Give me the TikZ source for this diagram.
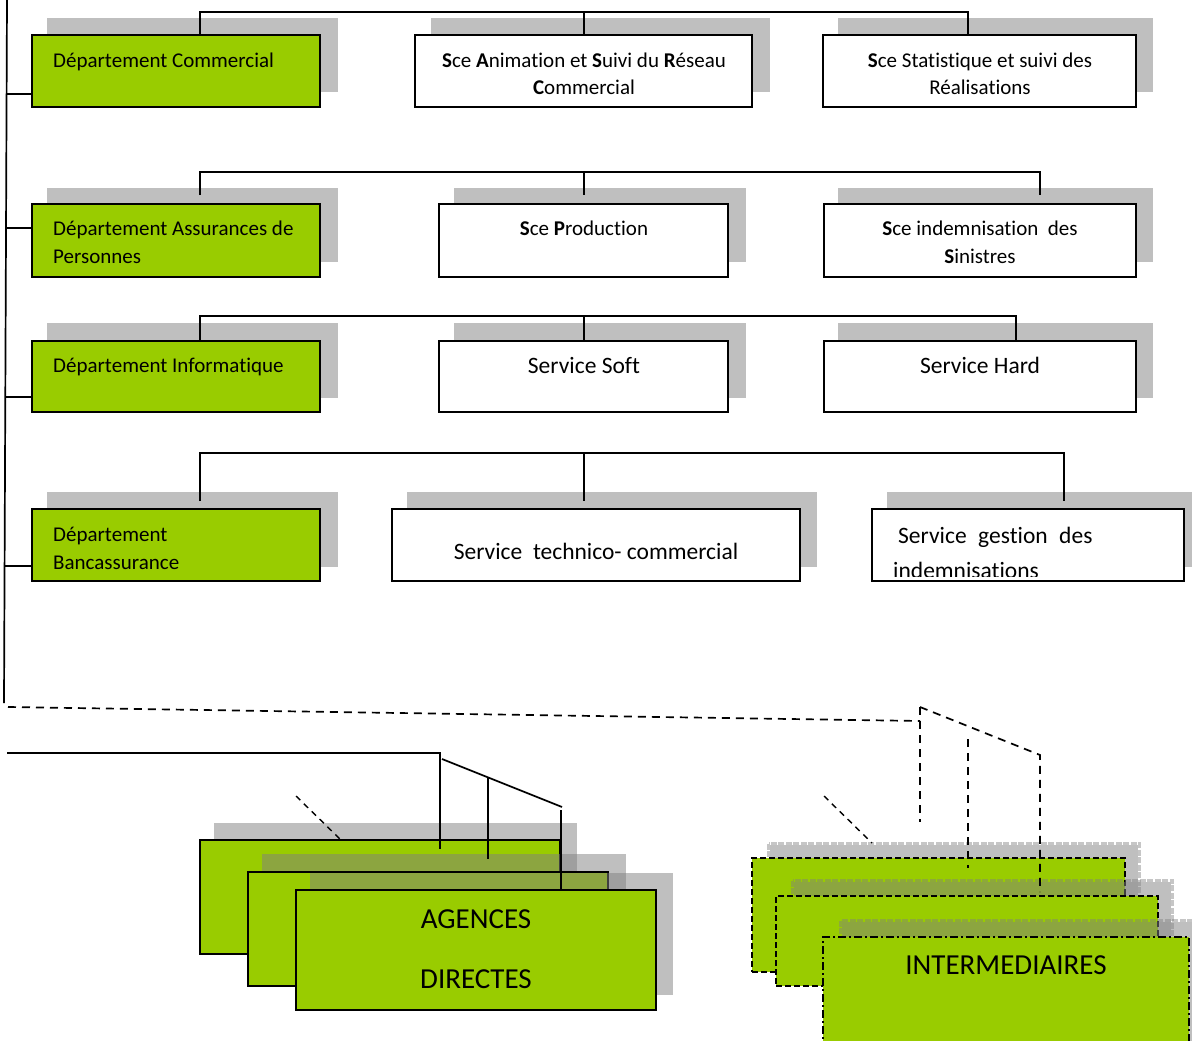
\documentclass[tikz,border=0pt]{standalone}
\usepackage{fontspec}
\setmainfont{Carlito}[Ligatures=NoCommon]
\definecolor{leaf}{HTML}{99CC00}
\definecolor{shade}{RGB}{128,128,128}
% shadow with a ragged, dashed rim
\newcommand\softshade[4]{%
  \fill[shadowfill] (#1+3,#2+3) rectangle (#3-3,#4-3);
  \draw[shadowedge] (#1+1.5,#2+1.5) rectangle (#3-1.5,#4-1.5);}
\begin{document}
\begin{tikzpicture}[x=1pt,y=-1pt,
  shadowfill/.style={fill=shade,fill opacity=0.5},
  shadowedge/.style={draw=shade,draw opacity=0.45,line width=3pt,dash pattern=on 6pt off 1.5pt},
  greenbox/.style={draw=black,line width=2pt,fill=leaf,inner sep=0pt},
  whitebox/.style={draw=black,line width=2pt,fill=white,inner sep=0pt},
  dashbox/.style={draw=black,line width=1.8pt,fill=leaf,inner sep=0pt,dash pattern=on 6pt off 3pt},
  dotbox/.style={draw=black,line width=1.8pt,fill=leaf,inner sep=0pt,dash pattern=on 8pt off 3pt on 2pt off 3pt},
  wire/.style={draw=black,line width=1.7pt},
  dwire/.style={draw=black,line width=1.7pt,dash pattern=on 8pt off 6pt},
  lbl/.style={inner sep=0pt,anchor=base west,font=\fontsize{21}{28}\selectfont},
  clbl/.style={inner sep=0pt,anchor=base,font=\fontsize{21}{28}\selectfont},
  blbl/.style={inner sep=0pt,anchor=base,font=\fontsize{23.5}{30}\selectfont},
  hlbl/.style={inner sep=0pt,anchor=base,font=\fontsize{29}{36}\selectfont},
]
\useasboundingbox (0,0) rectangle (1192,1041);
\clip (0,0) rectangle (1192,1041);

% ---------- row 1 ----------
\fill[shadowfill] (47,18) rectangle (338,92);
\node[greenbox,minimum width=288,minimum height=72] (dc) at (176,71) {};
\fill[shadowfill] (431,18) rectangle (770,92);
\node[whitebox,minimum width=337,minimum height=72] (sa) at (583.5,71) {};
\fill[shadowfill] (838,18) rectangle (1153,92);
\node[whitebox,minimum width=313,minimum height=72] (ss) at (979.5,71) {};
\coordinate (r1a) at (200,12); \coordinate (r1b) at (584,12); \coordinate (r1c) at (968,12);
\draw[wire] (r1a |- dc.north) -- (r1a) -- (r1c) -- (r1c |- ss.north);
\draw[wire] (r1b) -- (r1b |- sa.north);
\node[lbl] (t1) at (53,67) {Département Commercial};
\node[clbl] (t2) at (584,67) {\textbf{S}ce \textbf{A}nimation et \textbf{S}uivi du \textbf{R}éseau};
\node[clbl] (t3) at (584,95) {\textbf{C}ommercial};
\node[clbl] (t4) at (980,67) {\textbf{S}ce Statistique et suivi des};
\node[clbl] (t5) at (980,95) {Réalisations};

% ---------- row 2 ----------
\fill[shadowfill] (47,188) rectangle (338,262);
\node[greenbox,minimum width=288,minimum height=73] (dap) at (176,240.5) {};
\fill[shadowfill] (454,188) rectangle (746,262);
\node[whitebox,minimum width=289,minimum height=73] (sp) at (583.5,240.5) {};
\fill[shadowfill] (838,188) rectangle (1153,262);
\node[whitebox,minimum width=312,minimum height=73] (si) at (980,240.5) {};
\coordinate (r2a) at (200,172); \coordinate (r2b) at (584,172); \coordinate (r2c) at (1040,172);
\coordinate (e2a) at (200,195); \coordinate (e2b) at (584,195); \coordinate (e2c) at (1040,195);
\draw[wire] (e2a) -- (r2a) -- (r2c) -- (e2c);
\draw[wire] (r2b) -- (e2b);
\node[lbl] (t6) at (53,235) {Département Assurances de};
\node[lbl] (t7) at (53,263) {Personnes};
\node[clbl] (t8) at (584,235) {\textbf{S}ce \textbf{P}roduction};
\node[clbl] (t9) at (980,235) {\textbf{S}ce indemnisation\ \ des};
\node[clbl] (t10) at (980,263) {\textbf{S}inistres};

% ---------- row 3 ----------
\fill[shadowfill] (47,323) rectangle (338,398);
\node[greenbox,minimum width=288,minimum height=71] (di) at (176,376.5) {};
\fill[shadowfill] (454,323) rectangle (746,398);
\node[whitebox,minimum width=289,minimum height=71] (sso) at (583.5,376.5) {};
\fill[shadowfill] (838,323) rectangle (1153,398);
\node[whitebox,minimum width=312,minimum height=71] (sh) at (980,376.5) {};
\coordinate (r3a) at (200,316); \coordinate (r3b) at (584,316); \coordinate (r3c) at (1016,316);
\draw[wire] (r3a |- di.north) -- (r3a) -- (r3c) -- (r3c |- sh.north);
\draw[wire] (r3b) -- (r3b |- sso.north);
\node[lbl] (t11) at (53,372) {Département Informatique};
\node[blbl] (t12) at (584,373) {Service Soft};
\node[blbl] (t13) at (980,373) {Service Hard};

% ---------- row 4 ----------
\fill[shadowfill] (47,492) rectangle (338,567);
\node[greenbox,minimum width=288,minimum height=72] (db) at (176,545) {};
\fill[shadowfill] (407,492) rectangle (817,567);
\node[whitebox,minimum width=408,minimum height=72] (stc) at (596,545) {};
\fill[shadowfill] (887,492) rectangle (1210,567);
\node[whitebox,minimum width=312,minimum height=72] (sg) at (1028,545) {};
\coordinate (r4a) at (200,453); \coordinate (r4b) at (584,453); \coordinate (r4c) at (1064,453);
\coordinate (e4a) at (200,501); \coordinate (e4b) at (584,501); \coordinate (e4c) at (1064,501);
\draw[wire] (e4a) -- (r4a) -- (r4c) -- (e4c);
\draw[wire] (r4b) -- (e4b);
\node[lbl] (t14) at (53,541) {Département};
\node[lbl] (t15) at (53,569) {Bancassurance};
\node[blbl] (t16) at (596,559) {Service\ \ technico- commercial};
\begin{scope}
  \clip (873,511) rectangle (1183,576);
  \node[blbl,anchor=base west] (t17) at (898,543) {Service\hspace{11.5pt}gestion\hspace{11.5pt}des};
  \node[blbl,anchor=base west] (t18) at (893,578) {indemnisations};
\end{scope}

% ---------- spine and branches ----------
\coordinate (sp0) at (7,0); \coordinate (sp1) at (4,703);
\draw[wire] (sp0) -- (sp1);
\coordinate (k1) at (6.6,94); \coordinate (k2) at (6,228);
\coordinate (k3) at (5.3,397); \coordinate (k4) at (4.6,566);
\draw[wire] (k1) -- (k1 -| dc.west);
\draw[wire] (k2) -- (k2 -| dap.west);
\draw[wire] (k3) -- (k3 -| di.west);
\draw[wire] (k4) -- (k4 -| db.west);

% ---------- agences directes ----------
\fill[shadowfill] (214,823) rectangle (577,937);
\node[greenbox,minimum width=360,minimum height=114] (ag1) at (379.5,897) {};
\fill[shadowfill] (262,854) rectangle (626,969);
\node[greenbox,minimum width=360,minimum height=114] (ag2) at (428,929) {};
\fill[shadowfill] (310,873) rectangle (673,995);
\node[greenbox,minimum width=360,minimum height=120] (ag3) at (476,950) {};
\node[hlbl] (t19) at (476,928) {AGENCES};
\node[hlbl] (t20) at (476,988) {DIRECTES};

% ---------- intermediaires ----------
\softshade{767}{842}{1141}{958}
\node[dashbox,minimum width=373,minimum height=114] (in1) at (938.5,915) {};
\softshade{791}{879}{1174}{971}
\node[dashbox,minimum width=382,minimum height=90] (in2) at (967,941) {};
\softshade{839}{919}{1214}{1060}
\node[dotbox,minimum width=366,minimum height=123] (in3) at (1006,998.5) {};
\node[hlbl] (t21) at (1006,974) {INTERMEDIAIRES};

% ---------- links to the networks ----------
\coordinate (ha) at (7,753); \coordinate (hb) at (440,753); \coordinate (hc) at (440,849);
\draw[wire] (ha) -- (hb) -- (hc);
\coordinate (da) at (442,759); \coordinate (db2) at (562,807);
\draw[wire] (da) -- (db2);
\coordinate (va) at (488,778); \coordinate (vb) at (488,859);
\draw[wire] (va) -- (vb);
\coordinate (vc) at (561,810);
\draw[wire] (vc) -- (vc |- ag3.north);

\coordinate (ga) at (8,707); \coordinate (gb) at (920,721);
\draw[dwire] (ga) -- (gb);
\coordinate (gc) at (920,707); \coordinate (gd) at (920,822);
\draw[dwire] (gc) -- (gd);
\coordinate (ge) at (1040,755); \coordinate (gf) at (1040,892);
\draw[dwire] (gc) -- (ge) -- (gf);
\coordinate (gg) at (968,739); \coordinate (gh) at (968,868);
\draw[dwire] (gg) -- (gh);

\coordinate (la) at (296,796); \coordinate (lb) at (343,842);
\draw[dwire,line width=1.4pt,dash pattern=on 6pt off 5pt] (la) -- (lb);
\coordinate (lc) at (824,796); \coordinate (ld) at (872,843);
\draw[dwire,line width=1.4pt,dash pattern=on 6pt off 5pt] (lc) -- (ld);
\end{tikzpicture}
\end{document}
